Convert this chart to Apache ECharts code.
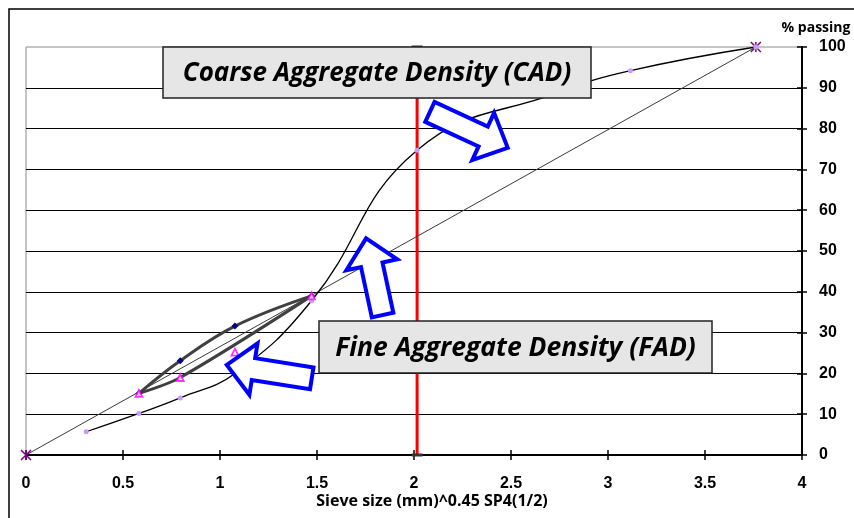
<!DOCTYPE html>
<html>
<head>
<meta charset="utf-8">
<script src="https://cdn.jsdelivr.net/npm/echarts@6/dist/echarts.min.js"></script>
<style>html,body{margin:0;padding:0;background:#fff;}#c{width:854px;height:518px;}</style>
</head>
<body>
<div id="c"></div>
<script>
// ---- data ----
const sieveX = [0.31, 0.582, 0.795, 1.077, 1.472, 2.016, 2.754, 3.116, 3.762];
const passing = [5.7, 10.2, 14.0, 20.0, 37.8, 74.7, 89.0, 94.2, 100];
const maxDensityX = [0, 3.762];
const maxDensityY = [0, 100];
const fadUpperX = [0.582, 0.795, 1.077, 1.472];
const fadUpperY = [15.1, 23.1, 31.6, 39.0];
const fadLowerX = [0.582, 0.795, 1.472];
const fadLowerY = [15.1, 19.0, 39.0];
const fadPtsX = [0.582, 0.795, 1.077, 1.472];
const fadPtsY = [15.1, 19.0, 25.2, 39.0];
const nmpsX = [2.016, 2.016];
const nmpsY = [0, 100];
const xTicks = [0, 0.5, 1, 1.5, 2, 2.5, 3, 3.5, 4];
const yTicks = [0, 10, 20, 30, 40, 50, 60, 70, 80, 90, 100];
// annotation arrows, in data coordinates [tailX, tailY, tipX, tipY]
const arrows = [
  [2.082, 84.1, 2.483, 75.3],
  [1.838, 34.3, 1.753, 53.1],
  [1.473, 18.8, 1.035, 22.1]
];

const zip = (a, b) => a.map((v, i) => [v, b[i]]);
const chart = echarts.init(document.getElementById('c'));
const labelFont = {color: '#000', fontWeight: 'bold', fontSize: 16, fontFamily: '"Liberation Sans", Arial, sans-serif'};
const star = 'path://M0,0L10,10M10,0L0,10M5,0L5,10';

chart.setOption({
  animation: false,
  backgroundColor: '#fff',
  grid: {left: 26, right: 52, top: 47, bottom: 63, show: true, borderColor: '#8c8c8c', borderWidth: 1},
  xAxis: [{
    type: 'value', min: xTicks[0], max: xTicks[xTicks.length - 1], interval: 0.5, position: 'bottom',
    axisLine: {show: true, onZero: false, lineStyle: {color: '#000', width: 2}},
    axisTick: {show: true, length: 5, lineStyle: {color: '#000', width: 1.5}},
    axisLabel: Object.assign({margin: 21}, labelFont),
    splitLine: {show: false}
  }, {
    type: 'value', min: xTicks[0], max: xTicks[xTicks.length - 1], interval: 0.5, position: 'bottom',
    axisLine: {show: false, onZero: false},
    axisTick: {show: true, inside: true, length: 5, lineStyle: {color: '#000', width: 1.5}},
    axisLabel: {show: false}, splitLine: {show: false}
  }],
  yAxis: [{
    type: 'value', position: 'right', min: yTicks[0], max: yTicks[yTicks.length - 1], interval: 10,
    axisLine: {show: true, onZero: false, lineStyle: {color: '#000', width: 2}},
    axisTick: {show: true, length: 5, lineStyle: {color: '#000', width: 1.5}},
    axisLabel: Object.assign({margin: 17}, labelFont),
    splitLine: {show: true, showMaxLine: false, lineStyle: {color: '#000', width: 1.2}}
  }, {
    type: 'value', position: 'right', min: yTicks[0], max: yTicks[yTicks.length - 1], interval: 10,
    axisLine: {show: false, onZero: false},
    axisTick: {show: true, inside: true, length: 5, lineStyle: {color: '#000', width: 1.5}},
    axisLabel: {show: false}, splitLine: {show: false}
  }],
  series: [
    {
      type: 'line', data: zip(nmpsX, nmpsY), z: 3,
      lineStyle: {color: '#ff0000', width: 3},
      symbol: 'rect', symbolSize: [11, 3], itemStyle: {color: '#333'}
    },
    {
      type: 'line', data: zip(maxDensityX, maxDensityY), z: 4,
      lineStyle: {color: '#3a3a3a', width: 1},
      symbol: star, symbolSize: 10,
      itemStyle: {color: 'rgba(0,0,0,0)', borderColor: '#800080', borderWidth: 1.5}
    },
    {
      type: 'line', data: zip(sieveX, passing), smooth: 0.45, z: 5,
      lineStyle: {color: '#000', width: 1.3},
      symbol: 'circle', symbolSize: 5, itemStyle: {color: '#cc99ff'}
    },
    {
      type: 'line', data: zip(fadUpperX, fadUpperY), smooth: 0.4, z: 6,
      lineStyle: {color: '#404040', width: 3},
      symbol: 'diamond', symbolSize: 7, itemStyle: {color: '#000080'}
    },
    {
      type: 'line', data: zip(fadLowerX, fadLowerY), smooth: 0.3, z: 6,
      lineStyle: {color: '#404040', width: 3},
      symbol: 'none'
    },
    {
      type: 'scatter', data: zip(fadPtsX, fadPtsY), z: 7,
      symbol: 'triangle', symbolSize: 7,
      itemStyle: {color: '#fff', borderColor: '#ff00ff', borderWidth: 1.8}
    }
  ]
});

function arrowPts(t, p, sw, hw, hl) {
  const dx = p[0] - t[0], dy = p[1] - t[1], L = Math.hypot(dx, dy);
  const ux = dx / L, uy = dy / L, nx = -uy, ny = ux;
  const bx = p[0] - ux * hl, by = p[1] - uy * hl;
  return [
    [t[0] + nx * sw / 2, t[1] + ny * sw / 2],
    [bx + nx * sw / 2, by + ny * sw / 2],
    [bx + nx * hw / 2, by + ny * hw / 2],
    [p[0], p[1]],
    [bx - nx * hw / 2, by - ny * hw / 2],
    [bx - nx * sw / 2, by - ny * sw / 2],
    [t[0] - nx * sw / 2, t[1] - ny * sw / 2]
  ];
}

const graphics = [];
arrows.forEach(a => {
  const t = chart.convertToPixel({gridIndex: 0}, [a[0], a[1]]);
  const p = chart.convertToPixel({gridIndex: 0}, [a[2], a[3]]);
  graphics.push({
    type: 'polygon', z: 100,
    shape: {points: arrowPts(t, p, 22, 52, 27)},
    style: {fill: '#fff', stroke: '#0000ff', lineWidth: 4, lineJoin: 'miter'}
  });
});
function box(x, y, w, h, txt, size) {
  graphics.push({type: 'rect', z: 110, shape: {x: x, y: y, width: w, height: h},
    style: {fill: '#e6e6e6', stroke: '#222', lineWidth: 1.5}});
  graphics.push({type: 'text', z: 111, x: x + w / 2, y: y + h / 2 + 1,
    style: {text: txt, fill: '#000', font: 'italic bold ' + size + 'px "Open Sans", "Noto Sans", sans-serif',
      textAlign: 'center', textVerticalAlign: 'middle'}});
}
box(163, 47, 428, 51, 'Coarse Aggregate Density (CAD)', 26);
box(319, 321, 393, 52, 'Fine Aggregate Density (FAD)', 26.5);
graphics.push({type: 'text', z: 50, x: 816, y: 28,
  style: {text: '% passing', fill: '#000', font: 'bold 14px "Open Sans", sans-serif', textAlign: 'center', textVerticalAlign: 'middle'}});
graphics.push({type: 'text', z: 50, x: 432, y: 501,
  style: {text: 'Sieve size (mm)^0.45 SP4(1/2)', fill: '#000', font: 'bold 16px "Open Sans", sans-serif', textAlign: 'center', textVerticalAlign: 'middle'}});
graphics.push({type: 'rect', z: 1, silent: true, shape: {x: 9, y: 9, width: 900, height: 600},
  style: {fill: 'none', stroke: '#000', lineWidth: 1.5}});
chart.setOption({graphic: graphics});
</script>
</body>
</html>
